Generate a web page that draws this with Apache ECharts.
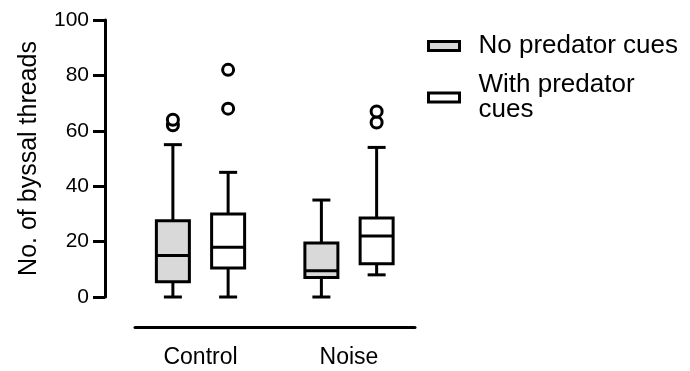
<!DOCTYPE html>
<html>
<head>
<meta charset="utf-8">
<script src="https://cdn.jsdelivr.net/npm/echarts@6/dist/echarts.min.js"></script>
<style>
  html, body { margin: 0; padding: 0; background: #fff; }
  #chart { width: 690px; height: 371px; }
</style>
</head>
<body>
<div id="chart"></div>
<script>
// groups on the x axis
const categories = ['Control', 'Noise']
const seriesNames = ['No predator cues', 'With predator cues']

// box stats per group: [min, Q1, median, Q3, max]
const noCuesStats = [
  [0, 5.5, 15, 27.5, 55],
  [0, 7, 9.5, 19.5, 35],
]
const withCuesStats = [
  [0, 10.5, 18, 30, 45],
  [8, 12, 22, 28.5, 54],
]

// outliers per group
const noCuesOutliers = [[62, 64], []]
const withCuesOutliers = [[68, 82], [63, 67]]

const yTicks = [0, 20, 40, 60, 80, 100]

const fills = ['#d9d9d9', '#ffffff']
const offsets = [-0.186, 0.186] // position of the two boxes inside a group
const fontFamily = '"Liberation Sans", Arial, sans-serif'

function boxData(stats, k) {
  return stats.map(function (s, i) {
    return [i + offsets[k]].concat(s)
  })
}
function outlierData(outliers, k) {
  const out = []
  outliers.forEach(function (list, i) {
    list.forEach(function (v) {
      out.push([i + offsets[k], v])
    })
  })
  return out
}

function renderBox(fill) {
  return function (params, api) {
    const x = api.value(0)
    const pMin = api.coord([x, api.value(1)])
    const pQ1 = api.coord([x, api.value(2)])
    const pMed = api.coord([x, api.value(3)])
    const pQ3 = api.coord([x, api.value(4)])
    const pMax = api.coord([x, api.value(5)])
    const cx = pMed[0]
    const half = 16.5
    const cap = 9
    const line = { stroke: '#000', lineWidth: 3 }
    return {
      type: 'group',
      children: [
        { type: 'line', shape: { x1: cx, y1: pMax[1], x2: cx, y2: pQ3[1] }, style: line },
        { type: 'line', shape: { x1: cx, y1: pQ1[1], x2: cx, y2: pMin[1] }, style: line },
        { type: 'line', shape: { x1: cx - cap, y1: pMax[1], x2: cx + cap, y2: pMax[1] }, style: line },
        { type: 'line', shape: { x1: cx - cap, y1: pMin[1], x2: cx + cap, y2: pMin[1] }, style: line },
        {
          type: 'rect',
          shape: { x: cx - half, y: pQ3[1], width: half * 2, height: pQ1[1] - pQ3[1] },
          style: { fill: fill, stroke: '#000', lineWidth: 3 },
        },
        { type: 'line', shape: { x1: cx - half, y1: pMed[1], x2: cx + half, y2: pMed[1] }, style: line },
      ],
    }
  }
}

const chart = echarts.init(document.getElementById('chart'))

const option = {
  animation: false,
  backgroundColor: '#fff',
  textStyle: { fontFamily: fontFamily, color: '#000' },
  grid: [
    { left: 105, top: 20, width: 310, height: 277 },
    { left: 135, top: 20, width: 280, height: 307 },
  ],
  legend: {
    orient: 'vertical',
    left: 427,
    top: 33,
    padding: 0,
    itemWidth: 31,
    itemHeight: 9,
    itemGap: 13,
    icon: 'rect',
    selectedMode: false,
    textStyle: { fontSize: 26, color: '#000', fontFamily: fontFamily, padding: [0, 0, 0, 14], lineHeight: 25 },
    formatter: function (name) {
      return name === seriesNames[1] ? 'With predator\ncues' : name
    },
    data: seriesNames.map(function (n, k) {
      return { name: n, itemStyle: { color: fills[k], borderColor: '#000', borderWidth: 3 } }
    }),
  },
  xAxis: [
    {
      gridIndex: 0,
      type: 'value',
      min: -0.6431,
      max: 1.4444,
      show: false,
    },
    {
      gridIndex: 1,
      type: 'value',
      min: -0.4411,
      max: 1.4444,
      axisLine: { show: true, onZero: false, lineStyle: { color: '#000', width: 3 } },
      axisTick: { show: false },
      splitLine: { show: false },
      axisLabel: {
        customValues: [0, 1],
        formatter: function (v) { return categories[Math.round(v)] },
        fontSize: 23,
        color: '#000',
        margin: 19,
        fontFamily: fontFamily,
      },
    },
  ],
  yAxis: [
    {
      gridIndex: 0,
      type: 'value',
      min: yTicks[0],
      max: yTicks[yTicks.length - 1],
      interval: 20,
      name: 'No. of byssal threads',
      nameLocation: 'middle',
      nameGap: 63,
      nameTextStyle: { fontSize: 25, color: '#000', fontFamily: fontFamily },
      axisLine: { show: true, onZero: false, lineStyle: { color: '#000', width: 3 } },
      axisTick: { show: true, length: 12, lineStyle: { color: '#000', width: 3 } },
      splitLine: { show: false },
      axisLabel: { fontSize: 21, color: '#000', margin: 16, fontFamily: fontFamily },
    },
    {
      gridIndex: 1,
      type: 'value',
      show: false,
    },
  ],
  series: [
    {
      name: seriesNames[0],
      type: 'custom',
      xAxisIndex: 0,
      yAxisIndex: 0,
      clip: false,
      renderItem: renderBox(fills[0]),
      encode: { x: 0, y: [1, 2, 3, 4, 5] },
      data: boxData(noCuesStats, 0),
    },
    {
      name: seriesNames[1],
      type: 'custom',
      xAxisIndex: 0,
      yAxisIndex: 0,
      clip: false,
      renderItem: renderBox(fills[1]),
      encode: { x: 0, y: [1, 2, 3, 4, 5] },
      data: boxData(withCuesStats, 1),
    },
    {
      name: seriesNames[0],
      type: 'scatter',
      xAxisIndex: 0,
      yAxisIndex: 0,
      symbol: 'circle',
      symbolSize: 11,
      itemStyle: { color: '#fff', borderColor: '#000', borderWidth: 3, opacity: 1 },
      data: outlierData(noCuesOutliers, 0),
    },
    {
      name: seriesNames[1],
      type: 'scatter',
      xAxisIndex: 0,
      yAxisIndex: 0,
      symbol: 'circle',
      symbolSize: 11,
      itemStyle: { color: '#fff', borderColor: '#000', borderWidth: 3, opacity: 1 },
      data: outlierData(withCuesOutliers, 1),
    },
  ],
}

chart.setOption(option)
</script>
</body>
</html>
